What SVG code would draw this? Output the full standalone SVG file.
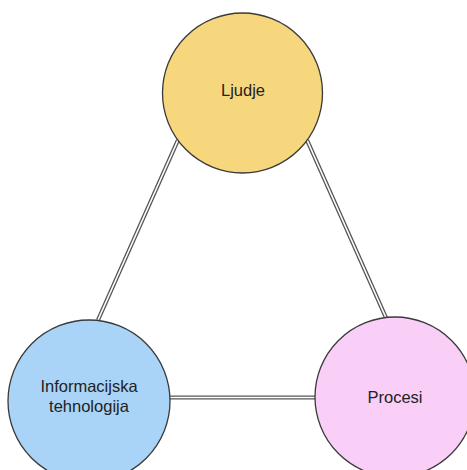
<svg xmlns="http://www.w3.org/2000/svg" width="467" height="470" viewBox="0 0 467 470">
  <style>
    .node { stroke: #3a3a3a; stroke-width: 1.3; }
    .label { font-family: "Liberation Sans", Arial, sans-serif; font-size: 16.5px; fill: #222; text-anchor: middle; }
    .link-outer { stroke: #555; stroke-width: 4.2; fill: none; }
    .link-inner { stroke: #fff; stroke-width: 1.6; fill: none; }
  </style>
  <rect width="467" height="470" fill="#fff"/>
  <g id="connectors">
    <line class="link-outer" x1="178" y1="140" x2="98" y2="320"/>
    <line class="link-inner" x1="178" y1="140" x2="98" y2="320"/>
    <line class="link-outer" x1="307" y1="140" x2="387" y2="320"/>
    <line class="link-inner" x1="307" y1="140" x2="387" y2="320"/>
    <line class="link-outer" x1="168" y1="397.5" x2="317" y2="397.5"/>
    <line class="link-inner" x1="168" y1="397.5" x2="317" y2="397.5"/>
  </g>
  <g id="ljudje">
    <circle class="node" cx="242.5" cy="93" r="80" fill="#F6D77E"/>
    <text class="label" x="243" y="96">Ljudje</text>
  </g>
  <g id="informacijska-tehnologija">
    <circle class="node" cx="89" cy="401" r="81" fill="#A9D4F7"/>
    <text class="label" x="89" y="392">Informacijska</text>
    <text class="label" x="89" y="412">tehnologija</text>
  </g>
  <g id="procesi">
    <circle class="node" cx="395" cy="397" r="80" fill="#F9CEF7"/>
    <text class="label" x="395" y="403">Procesi</text>
  </g>
</svg>
